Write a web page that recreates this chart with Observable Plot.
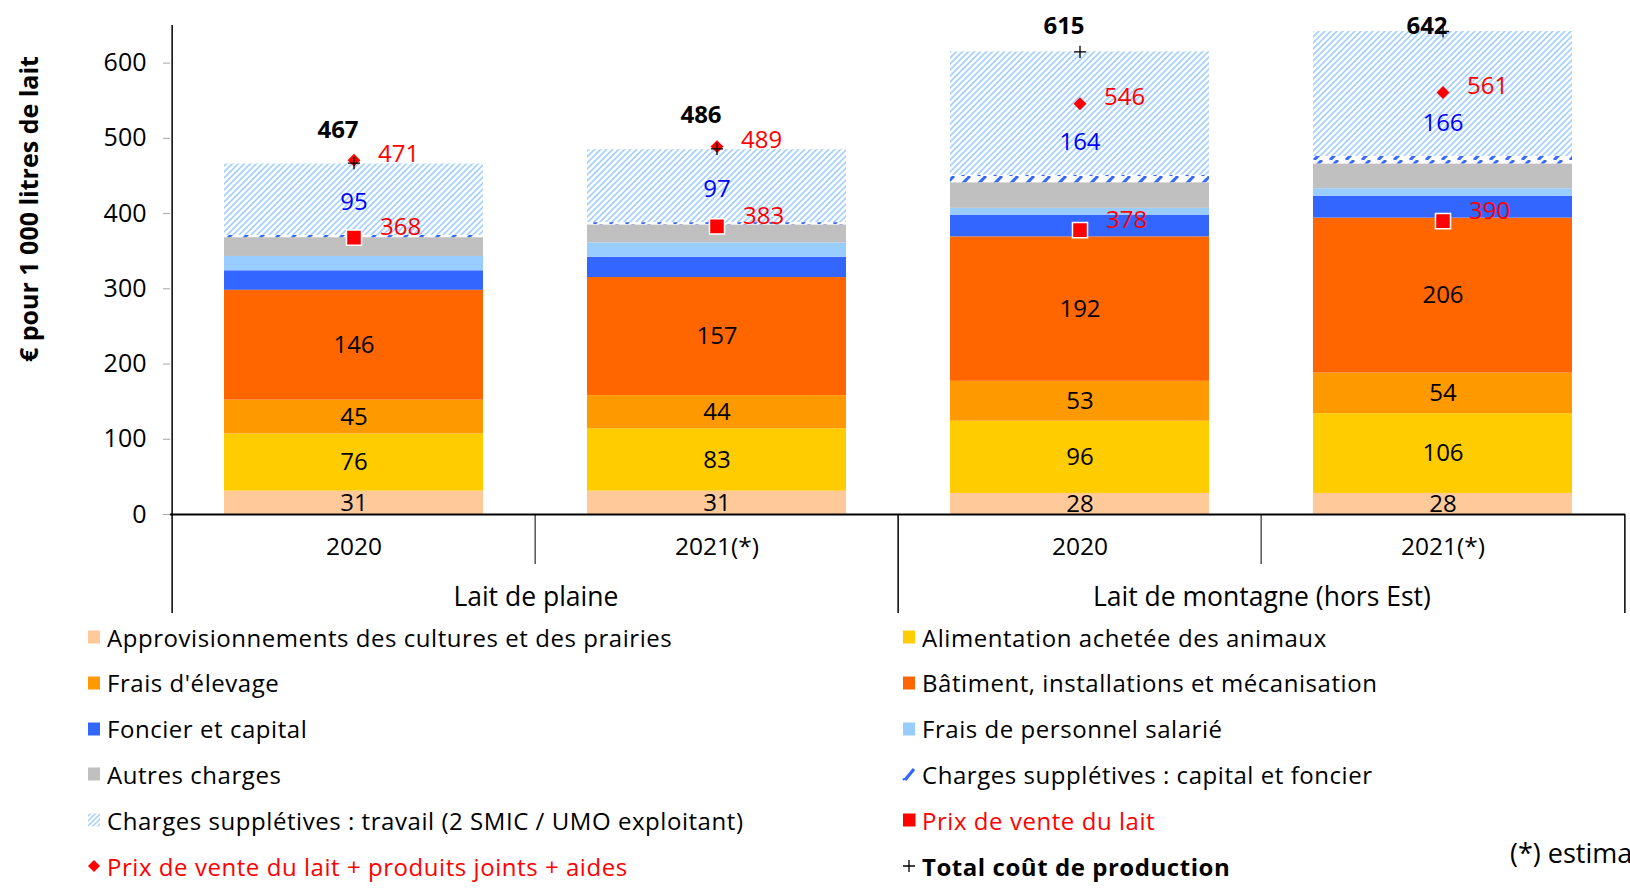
<!DOCTYPE html>
<html>
<head>
<meta charset="utf-8">
<script src="https://cdn.jsdelivr.net/npm/d3@7"></script>
<script src="https://cdn.jsdelivr.net/npm/@observablehq/plot@0.6"></script>
<style>
  html, body { margin: 0; padding: 0; background: #fff; }
  body { width: 1630px; height: 889px; overflow: hidden; position: relative; font-family: "Open Sans", sans-serif; }
  #chart { position: absolute; left: 0; top: 0; }
  .item { position: absolute; height: 46px; display: flex; align-items: center; font-size: 24px; letter-spacing: 0.55px; white-space: nowrap; color: #000; }
  .sw { display: inline-block; margin-right: 6px; flex: none; }
  #note { position: absolute; left: 1510px; top: 834px; font-size: 27px; white-space: nowrap; line-height: 38px; }
</style>
</head>
<body>
<div id="chart"></div>
<div id="legend"></div>
<div id="note">(*) estimations</div>
<script>
// ---- Data (€ pour 1 000 litres de lait) ----
const groups = ["Lait de plaine", "Lait de plaine", "Lait de montagne (hors Est)", "Lait de montagne (hors Est)"];
const years = ["2020", "2021(*)", "2020", "2021(*)"];

const approvisionnements = [31, 31, 28, 28];
const alimentation = [76, 83, 96, 106];
const fraisElevage = [45, 44, 53, 54];
const batiment = [146, 157, 192, 206];
const foncierCapital = [26, 27, 29, 29];
const personnel = [19, 19, 9, 10];
const autresCharges = [25, 24, 34, 33];
const suppCapital = [3, 3, 10, 10];
const suppTravail = [95, 97, 164, 166];

const prixLait = [368, 383, 378, 390];
const prixAides = [471, 489, 546, 561];
const totalCout = [467, 486, 615, 642];

const yTicks = [0, 100, 200, 300, 400, 500, 600];

const seriesNames = [
  "Approvisionnements des cultures et des prairies",
  "Alimentation achetée des animaux",
  "Frais d'élevage",
  "Bâtiment, installations et mécanisation",
  "Foncier et capital",
  "Frais de personnel salarié",
  "Autres charges",
  "Charges supplétives : capital et foncier",
  "Charges supplétives : travail (2 SMIC / UMO exploitant)"
];
const seriesValues = [approvisionnements, alimentation, fraisElevage, batiment, foncierCapital, personnel, autresCharges, suppCapital, suppTravail];

// ---- styles ----
const seriesFills = ["#FFC999", "#FFCC00", "#FF9900", "#FF6600", "#3366FF", "#99CCFF", "#C0C0C0", "url(#hatchCapital)", "url(#hatchTravail)"];
const labelledSeries = new Set(seriesNames.slice(0, 4));

const W = 1630, H = 616, ML = 170, MR = 5, MT = 25, MB = 102;
const bw = (W - ML - MR) / years.length;
const inset = 52;

const ids = years.map((y, i) => groups[i] + " · " + y);

const segments = [];
const points = [];
ids.forEach((id, i) => {
  let cum = 0;
  let travailBase = 0;
  seriesNames.forEach((s, k) => {
    const v = seriesValues[k][i];
    if (k === seriesNames.length - 1) travailBase = cum;
    segments.push({ id, serie: s, value: v, y1: cum, y2: cum + v });
    cum += v;
  });
  points.push({ id, year: years[i], group: groups[i], prixLait: prixLait[i], prixAides: prixAides[i], total: totalCout[i], travail: suppTravail[i], travailBase });
});

const groupStarts = ids.filter((id, i) => i === 0 || groups[i] !== groups[i - 1]);
const yearStarts = ids.filter((id, i) => i > 0 && groups[i] === groups[i - 1]);
const groupCenters = groupStarts.map(id => ({ id, label: groups[ids.indexOf(id)] }));

const chart = Plot.plot({
  width: W, height: H,
  marginLeft: ML, marginRight: MR, marginTop: MT, marginBottom: MB,
  style: { fontFamily: "'Open Sans', sans-serif", fontSize: "24px", background: "white", overflow: "visible" },
  x: { domain: ids, padding: 0, axis: null },
  y: { domain: [0, 650], axis: null },
  color: { domain: seriesNames, range: seriesFills },
  marks: [
    Plot.barY(segments, { x: "id", y1: "y1", y2: "y2", fill: "serie", insetLeft: inset, insetRight: inset }),
    Plot.axisY({ ticks: yTicks, tickSize: 7, tickPadding: 17, stroke: "#a6a6a6", fill: "black", fontSize: 25, label: null, tickFormat: d => d }),
    Plot.ruleX([ids[0]], { x: d => d, dx: -bw / 2, y1: () => 650, y2: () => 0, stroke: "black", strokeWidth: 1.5 }),
    Plot.ruleY([0], { stroke: "black", strokeWidth: 2 }),
    // category separators below the axis
    Plot.ruleX(groupStarts, { x: d => d, dx: -bw / 2, y1: () => 0, y2: () => 0, insetBottom: -99, stroke: "black", strokeWidth: 1.5 }),
    Plot.ruleX([ids[ids.length - 1]], { x: d => d, dx: bw / 2, y1: () => 0, y2: () => 0, insetBottom: -99, stroke: "black", strokeWidth: 1.5 }),
    Plot.ruleX(yearStarts, { x: d => d, dx: -bw / 2, y1: () => 0, y2: () => 0, insetBottom: -50, stroke: "black", strokeWidth: 1 }),
    Plot.text(points, { x: "id", y: () => 0, text: "year", dy: 33, fontSize: 24.5, fill: "black" }),
    Plot.text(groupCenters, { x: "id", y: () => 0, text: "label", dx: bw / 2, dy: 83, fontSize: 26.5, fill: "black" }),
    // y axis title
    Plot.text(["€ pour 1 000 litres de lait"], { frameAnchor: "left", y: () => 406, dx: -141, rotate: -90, textAnchor: "middle", text: d => d, fontWeight: "bold", fontSize: 25, fill: "black" }),
    // segment labels
    Plot.text(segments.filter(d => labelledSeries.has(d.serie)), { x: "id", y: d => (d.y1 + d.y2) / 2, text: "value", fontSize: 24, fill: "black" }),
    Plot.text(points, { x: "id", y: d => d.travailBase + 44, text: "travail", fontSize: 24, fill: "#0000FF" }),
    // markers
    Plot.dot(points, { x: "id", y: "prixLait", symbol: "square", r: 8.5, fill: "#FF0000", stroke: "white", strokeWidth: 1.5 }),
    Plot.dot(points, { x: "id", y: "prixAides", symbol: "diamond2", r: 5.8, fill: "#FF0000", stroke: "none" }),
    Plot.dot(points, { x: "id", y: "total", symbol: "plus", r: 4, fill: "none", stroke: "black", strokeWidth: 1.3 }),
    Plot.text(points, { x: "id", y: "prixLait", text: "prixLait", dx: 26, dy: -10, textAnchor: "start", fontSize: 24, fill: "#FF0000" }),
    Plot.text(points, { x: "id", y: "prixAides", text: "prixAides", dx: 24, dy: -6, textAnchor: "start", fontSize: 24, fill: "#FF0000" }),
    Plot.text(points, { x: "id", y: d => Math.min(d.total + 44, 649), text: "total", dx: -16, fontSize: 24, fontWeight: "bold", fill: "black" })
  ]
});

// patterns
const defs = d3.select(chart).insert("defs", ":first-child");
const pT = defs.append("pattern").attr("id", "hatchTravail").attr("patternUnits", "userSpaceOnUse").attr("width", 6).attr("height", 6);
pT.append("rect").attr("width", 6).attr("height", 6).attr("fill", "white");
pT.append("path").attr("d", "M-1,1 L1,-1 M0,6 L6,0 M5,7 L7,5").attr("stroke", "#a3d0ff").attr("stroke-width", 1.6);
const pC = defs.append("pattern").attr("id", "hatchCapital").attr("patternUnits", "userSpaceOnUse").attr("width", 16).attr("height", 8);
pC.append("rect").attr("width", 16).attr("height", 8).attr("fill", "white");
pC.append("path").attr("d", "M2,8 L10,0").attr("stroke", "#3366FF").attr("stroke-width", 3);

document.getElementById("chart").appendChild(chart);

// ---- legend ----
function swatchSVG(kind, color) {
  const ns = "http://www.w3.org/2000/svg";
  const s = document.createElementNS(ns, "svg");
  s.setAttribute("class", "sw");
  s.setAttribute("width", 14); s.setAttribute("height", 16);
  if (kind === "rect") {
    s.innerHTML = `<rect x="1" y="1.5" width="12" height="13" fill="${color}"/>`;
  } else if (kind === "travail") {
    s.innerHTML = `<defs><pattern id="lgT" patternUnits="userSpaceOnUse" width="5" height="5"><path d="M-1,1 L1,-1 M0,5 L5,0 M4,6 L6,4" stroke="#a3d0ff" stroke-width="1.5"/></pattern></defs><rect x="1" y="1.5" width="12" height="13" fill="url(#lgT)"/>`;
  } else if (kind === "capital") {
    s.innerHTML = `<path d="M3,14 L12,3" stroke="#3366FF" stroke-width="3.2"/><path d="M1,14 L2.5,12.5" stroke="#3366FF" stroke-width="2"/>`;
  } else if (kind === "square") {
    s.innerHTML = `<rect x="1" y="1.5" width="12.5" height="13" fill="#FF0000"/>`;
  } else if (kind === "diamond") {
    s.innerHTML = `<path d="M7,2 L13,8 L7,14 L1,8 Z" fill="#FF0000"/>`;
  } else if (kind === "plus") {
    s.innerHTML = `<path d="M1,8 L13,8 M7,2 L7,14" stroke="#000" stroke-width="1.3"/>`;
  }
  return s;
}

const legendItems = seriesNames.map((n, k) => ({
  name: n,
  kind: k === 7 ? "capital" : k === 8 ? "travail" : "rect",
  color: seriesFills[k], textColor: "#000", bold: false
}));
legendItems.push({ name: "Prix de vente du lait", kind: "square", textColor: "#FF0000", bold: false });
legendItems.push({ name: "Prix de vente du lait + produits joints + aides", kind: "diamond", textColor: "#FF0000", bold: false });
legendItems.push({ name: "Total coût de production", kind: "plus", textColor: "#000", bold: true });

const legend = document.getElementById("legend");
legendItems.forEach((it, i) => {
  const col = i % 2, row = Math.floor(i / 2);
  const div = document.createElement("div");
  div.className = "item";
  div.style.left = (col === 0 ? 87 : 902) + "px";
  div.style.top = (614 + row * 45.8) + "px";
  div.appendChild(swatchSVG(it.kind, it.color));
  const span = document.createElement("span");
  span.textContent = it.name;
  span.style.color = it.textColor;
  if (it.bold) span.style.fontWeight = "bold";
  div.appendChild(span);
  legend.appendChild(div);
});
</script>
</body>
</html>
